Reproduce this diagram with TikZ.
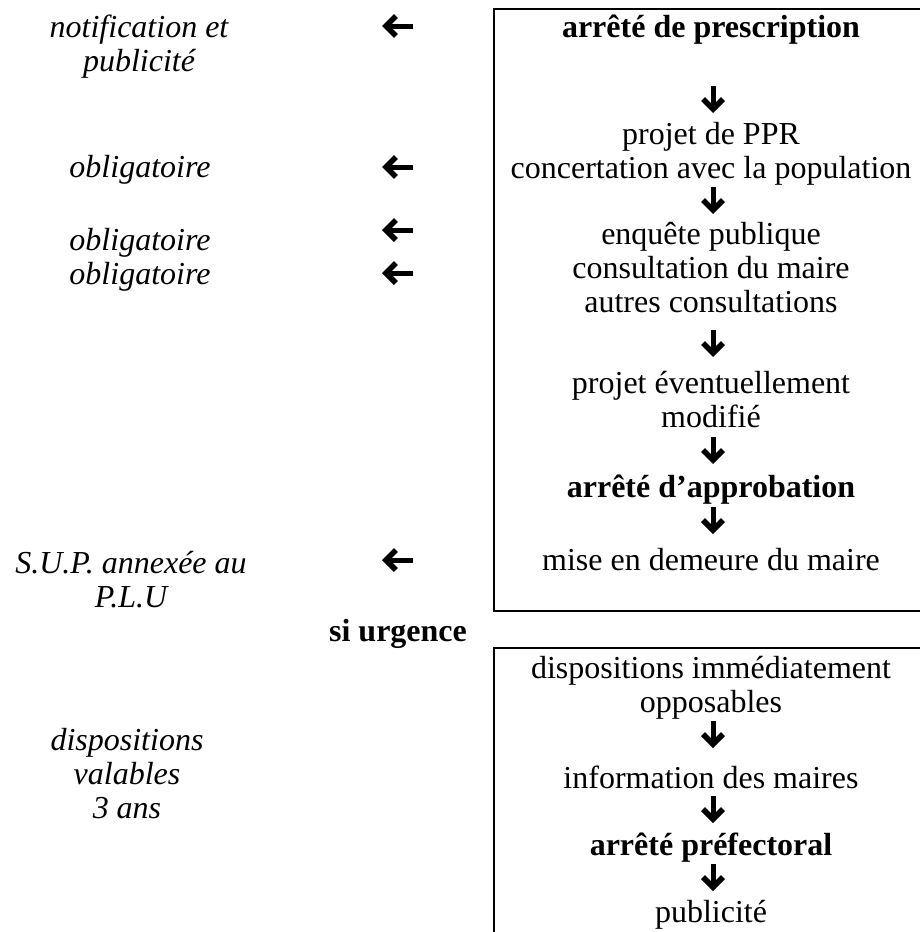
\documentclass[tikz,border=0pt]{standalone}
\usepackage{fontspec}
\setmainfont{Liberation Serif}
\usetikzlibrary{arrows.meta}

\begin{document}
\begin{tikzpicture}[x=1pt, y=-1pt,
    every node/.style={align=center, inner sep=0pt, font=\fontsize{32}{34}\selectfont},
    side/.style={font=\fontsize{32}{34}\selectfont\itshape},
    key/.style={font=\fontsize{32}{34}\selectfont\bfseries},
    box/.style={line width=2pt},
    fat/.style={line width=5pt, -{Straight Barb[length=10pt, width=20pt, line width=5.5pt]}}]
    \useasboundingbox (0,0) rectangle (919,932);

    % normal procedure
    \draw [box] (494,9) rectangle (930,611);
    \node [key] (prescription) at (711,30) {arrêté de prescription};
    \node (projet) at (711,154) {projet de PPR\\concertation avec la population};
    \node (enquete) at (711,268) {enquête publique\\consultation du maire\\autres consultations};
    \node (modifie) at (711,400) {projet éventuellement\\modifié};
    \node [key] (approbation) at (711,490) {arrêté d’approbation};
    \node (demeure) at (711,560) {mise en demeure du maire};

    % emergency procedure
    \node [key] (urgence) at (398,634) {si urgence};
    \draw [box] (494,648) rectangle (930,945);
    \node (opposables) at (711,688) {dispositions immédiatement\\opposables};
    \node (maires) at (711,777) {information des maires};
    \node [key] (prefectoral) at (711,848) {arrêté préfectoral};
    \node (publicite) at (711,915) {publicité};

    % remarks on the left
    \node [side] (notification) at (139,47) {notification et\\publicité};
    \node [side] (oblig) at (140,170) {obligatoire};
    \node [side] (obligdouble) at (140,260) {obligatoire\\obligatoire};
    \node [side] (sup) at (131,580) {S.U.P. annexée au\\P.L.U};
    \node [side] (valables) at (127,774) {dispositions\\valables\\3 ans};

    % down arrows
    \coordinate (d1) at (713,86);   \coordinate (d1e) at (713,113);
    \coordinate (d2) at (713,187);  \coordinate (d2e) at (713,214);
    \coordinate (d3) at (713,330);  \coordinate (d3e) at (713,357);
    \coordinate (d4) at (713,437);  \coordinate (d4e) at (713,464);
    \coordinate (d5) at (713,507);  \coordinate (d5e) at (713,534);
    \coordinate (d6) at (713,721);  \coordinate (d6e) at (713,748);
    \coordinate (d7) at (713,796);  \coordinate (d7e) at (713,823);
    \coordinate (d8) at (713,864);  \coordinate (d8e) at (713,891);
    \path [fat, draw] (d1) -- (d1e);
    \path [fat, draw] (d2) -- (d2e);
    \path [fat, draw] (d3) -- (d3e);
    \path [fat, draw] (d4) -- (d4e);
    \path [fat, draw] (d5) -- (d5e);
    \path [fat, draw] (d6) -- (d6e);
    \path [fat, draw] (d7) -- (d7e);
    \path [fat, draw] (d8) -- (d8e);

    % left arrows
    \coordinate (l1) at (413,26);   \coordinate (l1e) at (382,26);
    \coordinate (l2) at (413,167);  \coordinate (l2e) at (382,167);
    \coordinate (l3) at (413,230);  \coordinate (l3e) at (382,230);
    \coordinate (l4) at (413,273);  \coordinate (l4e) at (382,273);
    \coordinate (l5) at (413,560);  \coordinate (l5e) at (382,560);
    \path [fat, draw] (l1) -- (l1e);
    \path [fat, draw] (l2) -- (l2e);
    \path [fat, draw] (l3) -- (l3e);
    \path [fat, draw] (l4) -- (l4e);
    \path [fat, draw] (l5) -- (l5e);
\end{tikzpicture}
\end{document}
